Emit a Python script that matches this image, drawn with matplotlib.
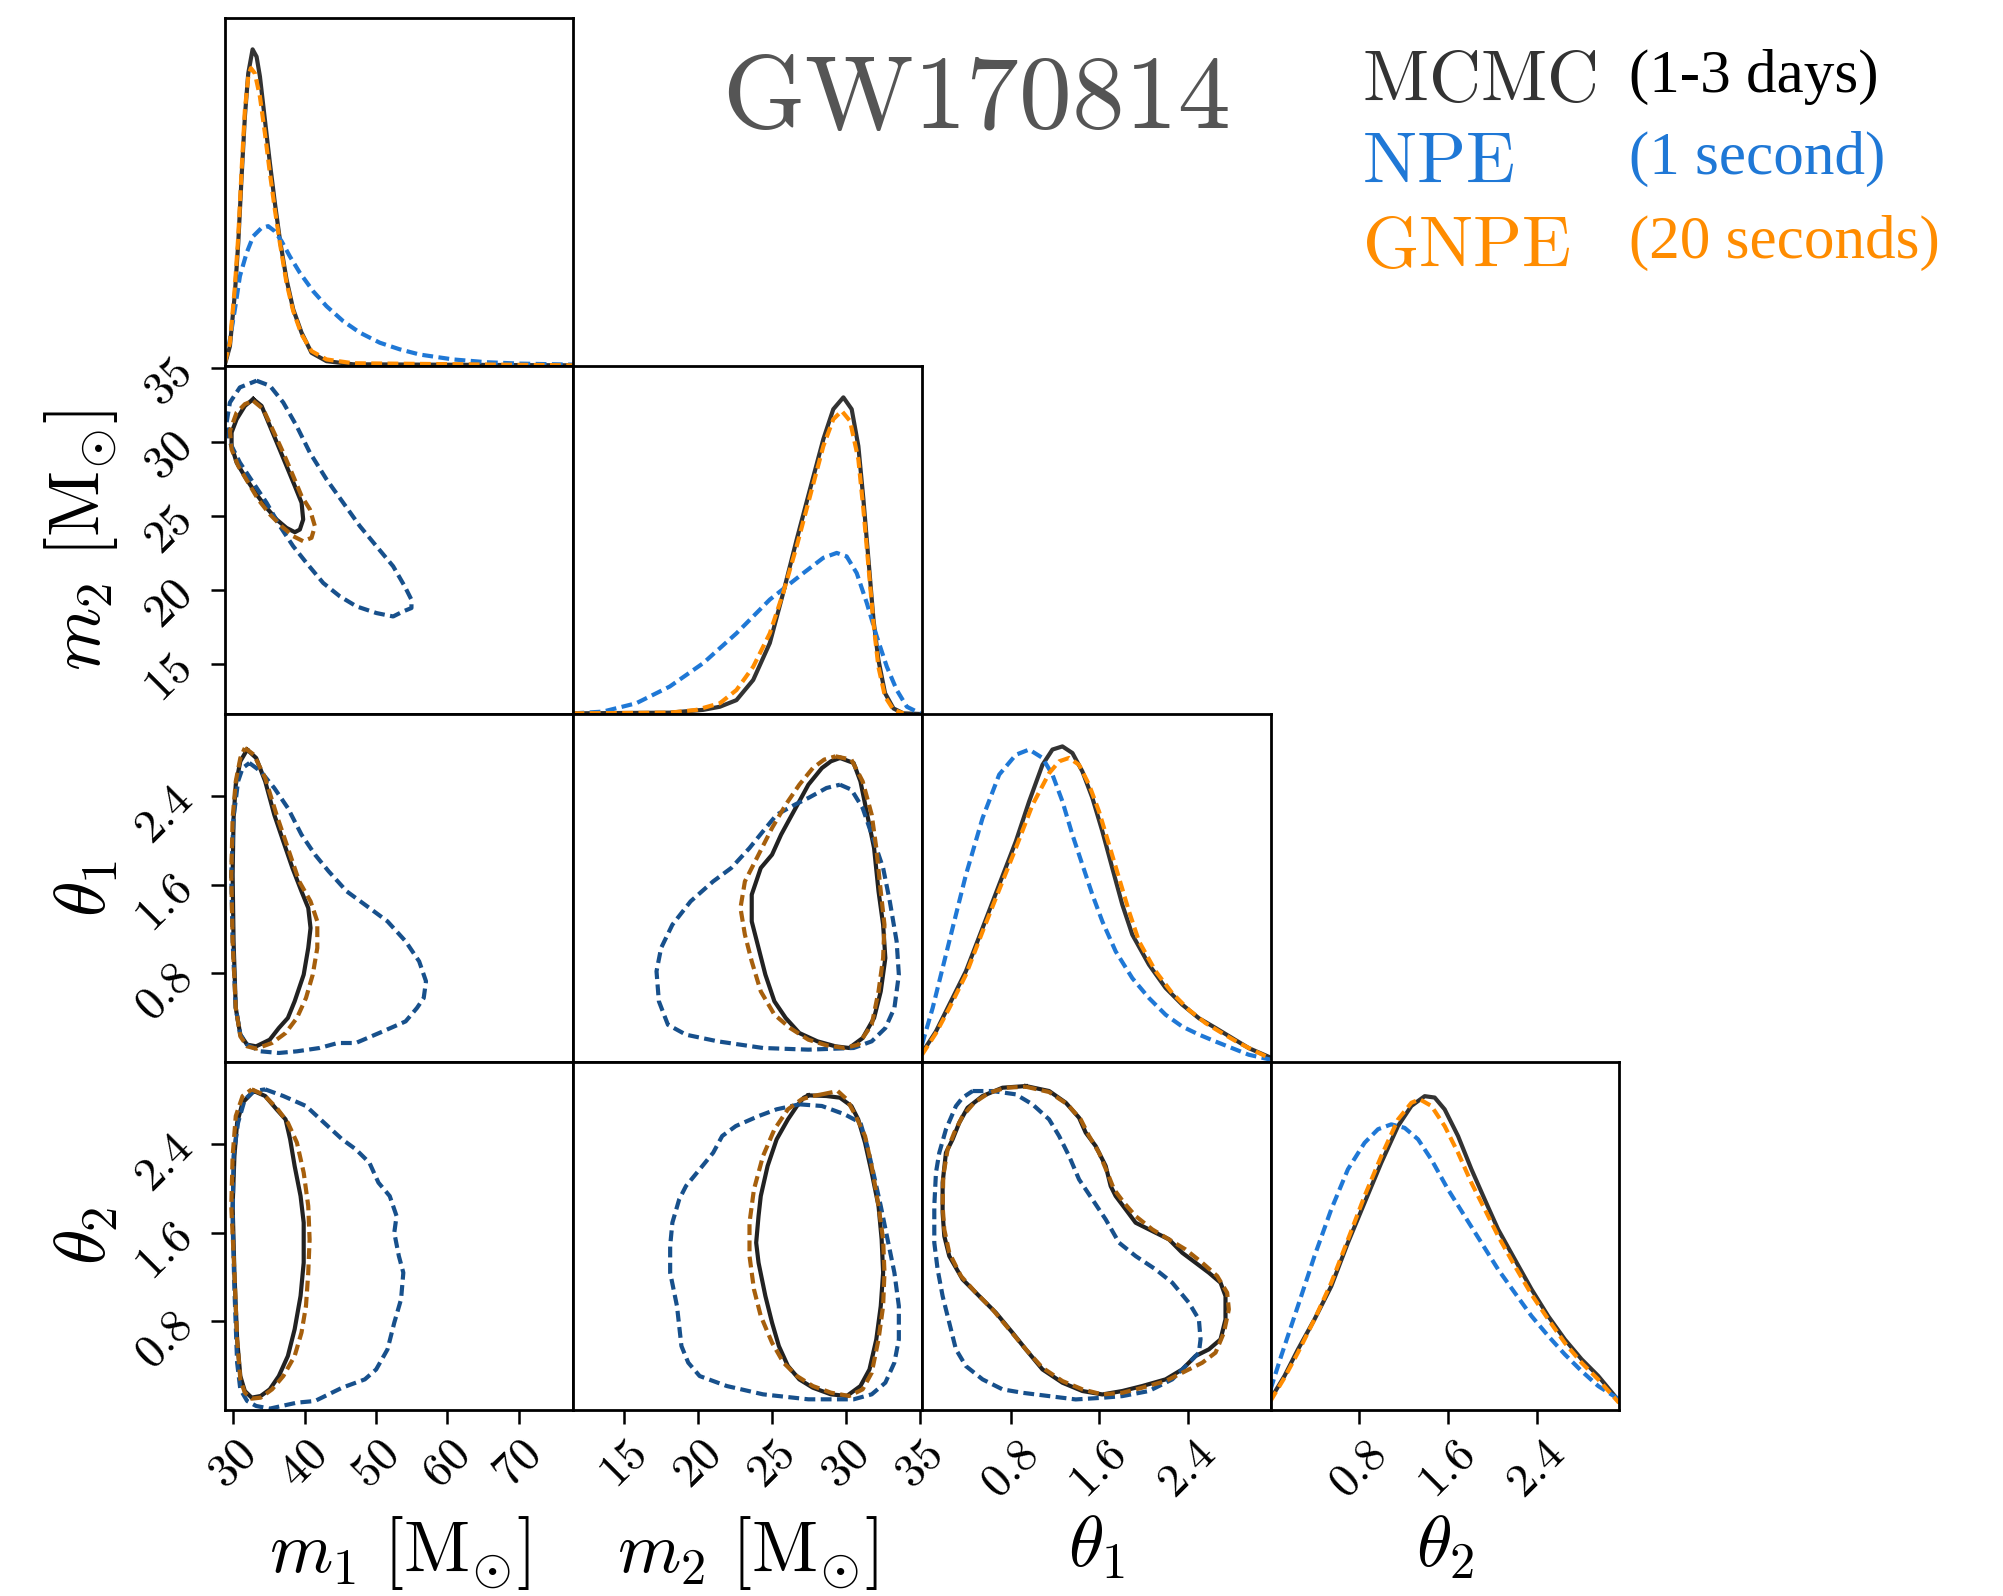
import numpy as np
import matplotlib.pyplot as plt

plt.rcParams['mathtext.fontset'] = 'cm'
plt.rcParams['font.family'] = 'Liberation Serif'

# ---------------- data ----------------
names = [r'$m_1\ [\mathrm{M}_{\odot}]$', r'$m_2\ [\mathrm{M}_{\odot}]$', r'$\theta_1$', r'$\theta_2$']
limits = [(28.8, 77.7), (11.6, 35.1), (0, np.pi), (0, np.pi)]
ticks = [[30, 40, 50, 60, 70], [15, 20, 25, 30, 35], [0.8, 1.6, 2.4], [0.8, 1.6, 2.4]]

methods = ['MCMC', 'NPE', 'GNPE']
times = ['(1-3 days)', '(1 second)', '(20 seconds)']

# 1D marginals (height as fraction of the panel)
m1_x_mcmc = [28.8, 29.5, 30.2, 30.67, 31.14, 31.6, 32.07, 32.68, 33.24, 33.71, 34.41, 35.11, 35.81, 36.51, 37.44, 38.38, 39.55, 40.95, 43.05, 46.79, 77.7]
m1_h_mcmc = [0.005, 0.057, 0.21, 0.354, 0.545, 0.717, 0.841, 0.91, 0.889, 0.832, 0.707, 0.583, 0.468, 0.363, 0.249, 0.163, 0.096, 0.038, 0.014, 0.005, 0.002]
m1_x_gnpe = [28.8, 29.5, 30.2, 30.67, 31.14, 31.6, 32.07, 32.44, 33.0, 33.71, 34.41, 35.11, 35.81, 36.51, 37.44, 38.38, 39.55, 40.95, 43.05, 46.79, 77.7]
m1_h_gnpe = [0.01, 0.067, 0.229, 0.373, 0.564, 0.736, 0.832, 0.856, 0.841, 0.774, 0.669, 0.554, 0.449, 0.354, 0.239, 0.158, 0.091, 0.043, 0.019, 0.008, 0.002]
m1_x_npe = [28.8, 29.5, 30.2, 30.9, 31.84, 32.77, 33.94, 34.87, 35.81, 36.74, 37.91, 39.31, 41.18, 43.05, 45.39, 47.73, 50.53, 53.33, 56.14, 60.81, 65.48, 70.16, 77.7]
m1_h_npe = [0.01, 0.076, 0.163, 0.258, 0.325, 0.373, 0.397, 0.402, 0.387, 0.359, 0.315, 0.268, 0.215, 0.172, 0.129, 0.096, 0.067, 0.048, 0.033, 0.019, 0.011, 0.007, 0.004]

m2_x_mcmc = [11.6, 18.09, 20.34, 21.47, 22.59, 23.72, 24.84, 25.74, 26.65, 27.55, 28.45, 29.12, 29.8, 30.36, 30.81, 31.15, 31.49, 31.83, 32.16, 32.61, 33.18, 33.85, 35.1]
m2_h_mcmc = [0.002, 0.004, 0.012, 0.021, 0.04, 0.098, 0.204, 0.348, 0.501, 0.646, 0.79, 0.876, 0.91, 0.876, 0.77, 0.617, 0.444, 0.271, 0.156, 0.06, 0.016, 0.002, 0.0]
m2_x_gnpe = [11.6, 18.09, 19.89, 21.47, 22.59, 23.72, 24.84, 25.74, 26.65, 27.55, 28.45, 29.12, 29.69, 30.25, 30.81, 31.15, 31.49, 31.83, 32.16, 32.61, 33.18, 33.85]
m2_h_gnpe = [0.002, 0.004, 0.012, 0.031, 0.069, 0.136, 0.232, 0.348, 0.482, 0.626, 0.77, 0.847, 0.871, 0.842, 0.732, 0.588, 0.425, 0.261, 0.136, 0.05, 0.012, 0.002]
m2_x_npe = [11.6, 13.58, 15.83, 18.09, 20.34, 22.59, 24.84, 27.1, 28.45, 29.35, 30.02, 30.7, 31.38, 32.05, 32.73, 33.4, 34.08, 34.98]
m2_h_npe = [0.002, 0.007, 0.031, 0.079, 0.146, 0.232, 0.329, 0.405, 0.449, 0.463, 0.453, 0.405, 0.319, 0.223, 0.136, 0.069, 0.021, 0.002]

t1_x_mcmc = [0, 0.126, 0.246, 0.396, 0.546, 0.696, 0.846, 0.966, 1.086, 1.176, 1.266, 1.356, 1.446, 1.536, 1.626, 1.716, 1.806, 1.896, 2.046, 2.196, 2.346, 2.496, 2.646, 2.796, 2.946, 3.141]
t1_h_mcmc = [0.026, 0.088, 0.165, 0.261, 0.385, 0.51, 0.634, 0.749, 0.854, 0.898, 0.907, 0.888, 0.835, 0.759, 0.663, 0.557, 0.452, 0.366, 0.28, 0.213, 0.165, 0.126, 0.098, 0.069, 0.04, 0.013]
t1_x_gnpe = [0, 0.126, 0.246, 0.396, 0.546, 0.696, 0.846, 0.996, 1.146, 1.236, 1.326, 1.416, 1.506, 1.596, 1.686, 1.776, 1.866, 1.956, 2.106, 2.256, 2.406, 2.556, 2.706, 2.856, 3.006, 3.141]
t1_h_gnpe = [0.021, 0.083, 0.155, 0.251, 0.375, 0.495, 0.615, 0.739, 0.83, 0.864, 0.874, 0.854, 0.797, 0.72, 0.625, 0.529, 0.433, 0.347, 0.261, 0.198, 0.15, 0.112, 0.083, 0.055, 0.031, 0.01]
t1_x_npe = [0, 0.096, 0.246, 0.396, 0.546, 0.696, 0.846, 0.966, 1.086, 1.176, 1.266, 1.356, 1.446, 1.536, 1.626, 1.746, 1.896, 2.046, 2.196, 2.346, 2.496, 2.646, 2.796, 2.946, 3.141]
t1_h_npe = [0.05, 0.155, 0.347, 0.538, 0.701, 0.826, 0.883, 0.898, 0.874, 0.826, 0.749, 0.653, 0.567, 0.481, 0.404, 0.318, 0.241, 0.184, 0.136, 0.102, 0.079, 0.059, 0.04, 0.021, 0.007]

t2_x_mcmc = [0, 0.126, 0.247, 0.397, 0.548, 0.698, 0.848, 0.999, 1.149, 1.27, 1.39, 1.48, 1.57, 1.691, 1.811, 1.931, 2.052, 2.202, 2.353, 2.503, 2.653, 2.804, 2.954, 3.141]
t2_h_mcmc = [0.031, 0.098, 0.174, 0.261, 0.356, 0.481, 0.596, 0.711, 0.816, 0.874, 0.902, 0.898, 0.864, 0.787, 0.692, 0.605, 0.519, 0.433, 0.347, 0.27, 0.203, 0.146, 0.098, 0.026]
t2_x_gnpe = [0, 0.126, 0.247, 0.397, 0.548, 0.698, 0.848, 0.999, 1.149, 1.27, 1.345, 1.45, 1.57, 1.691, 1.811, 1.931, 2.052, 2.202, 2.353, 2.503, 2.653, 2.804, 2.954, 3.141]
t2_h_gnpe = [0.026, 0.093, 0.165, 0.261, 0.366, 0.49, 0.615, 0.73, 0.835, 0.883, 0.893, 0.874, 0.816, 0.739, 0.653, 0.577, 0.5, 0.414, 0.332, 0.261, 0.193, 0.136, 0.088, 0.021]
t2_x_npe = [0, 0.096, 0.247, 0.397, 0.548, 0.698, 0.848, 0.969, 1.089, 1.209, 1.33, 1.45, 1.6, 1.751, 1.901, 2.052, 2.202, 2.353, 2.503, 2.653, 2.804, 2.954, 3.141]
t2_h_npe = [0.059, 0.155, 0.299, 0.443, 0.577, 0.692, 0.768, 0.807, 0.821, 0.811, 0.778, 0.72, 0.634, 0.557, 0.481, 0.404, 0.337, 0.27, 0.213, 0.16, 0.112, 0.069, 0.031]

# 2D contours (outer credible region), x then y
m1m2_mcmc_x = [32.77, 33.94, 35.11, 36.28, 37.44, 38.61, 39.55, 39.78, 39.31, 38.61, 37.44, 36.04, 34.64, 33.24, 31.84, 30.44, 29.73, 29.73, 30.44, 31.6]
m1m2_mcmc_y = [32.87, 32.41, 31.05, 29.7, 28.35, 26.99, 25.87, 24.74, 24.06, 23.88, 24.17, 24.74, 25.53, 26.43, 27.45, 28.58, 29.7, 30.61, 31.51, 32.41]
m1m2_gnpe_x = [32.77, 34.17, 35.58, 36.98, 38.38, 39.55, 40.72, 41.42, 40.95, 39.78, 38.38, 36.74, 35.11, 33.47, 32.07, 30.67, 29.73, 29.5, 30.44, 31.6]
m1m2_gnpe_y = [32.75, 32.19, 30.72, 29.25, 27.67, 26.32, 25.42, 24.29, 23.5, 23.27, 23.61, 24.29, 25.08, 26.09, 27.22, 28.35, 29.48, 30.72, 31.96, 32.53]
m1m2_npe_x = [33.24, 35.11, 36.98, 38.85, 40.72, 43.05, 45.39, 47.73, 50.06, 52.4, 54.03, 54.97, 54.97, 53.8, 52.4, 50.06, 47.26, 44.92, 42.59, 40.25, 38.38, 36.51, 34.64, 32.77, 30.9, 29.5, 29.03, 29.5, 30.9]
m1m2_npe_y = [34.11, 33.77, 32.64, 31.06, 29.25, 27.45, 25.87, 24.29, 22.93, 21.58, 20.22, 19.32, 18.76, 18.53, 18.19, 18.42, 18.87, 19.55, 20.45, 21.8, 22.93, 24.29, 25.87, 27.22, 28.58, 29.93, 31.29, 32.64, 33.66]

m1t1_mcmc_x = [31.91, 33.18, 34.45, 35.72, 36.99, 38.27, 39.54, 40.49, 40.81, 40.49, 39.85, 38.58, 37.63, 36.36, 35.09, 33.18, 31.91, 30.96, 30.32, 30.01, 29.88, 30.01, 30.32, 30.96]
m1t1_mcmc_y = [2.82, 2.745, 2.534, 2.233, 1.992, 1.752, 1.541, 1.391, 1.21, 1.03, 0.789, 0.548, 0.398, 0.307, 0.202, 0.142, 0.157, 0.247, 0.488, 1.09, 1.692, 2.203, 2.504, 2.715]
m1t1_gnpe_x = [31.59, 32.86, 34.45, 36.04, 37.63, 39.22, 40.81, 41.76, 41.76, 41.12, 40.17, 38.9, 37.31, 35.41, 33.18, 31.91, 30.96, 30.32, 29.88, 29.69, 29.88, 30.32, 30.96]
m1t1_gnpe_y = [2.835, 2.775, 2.564, 2.233, 1.932, 1.631, 1.451, 1.27, 1.03, 0.789, 0.578, 0.398, 0.262, 0.172, 0.121, 0.142, 0.232, 0.488, 1.09, 1.692, 2.203, 2.534, 2.745]
m1t1_npe_x = [32.23, 33.82, 35.72, 37.63, 39.54, 41.44, 43.35, 45.89, 49.07, 51.61, 54.15, 56.05, 57.01, 56.69, 55.74, 54.15, 50.97, 47.16, 44.62, 42.08, 38.9, 36.36, 33.82, 31.91, 30.96, 30.32, 29.88, 29.69, 30.01, 30.64, 31.28]
m1t1_npe_y = [2.7, 2.624, 2.474, 2.293, 2.053, 1.872, 1.722, 1.541, 1.391, 1.27, 1.09, 0.909, 0.729, 0.578, 0.488, 0.367, 0.277, 0.172, 0.172, 0.127, 0.097, 0.082, 0.097, 0.157, 0.247, 0.488, 1.09, 1.692, 2.203, 2.534, 2.654]

m2t1_mcmc_x = [29.57, 30.49, 30.95, 31.41, 31.87, 32.17, 32.48, 32.63, 32.32, 31.87, 31.1, 30.19, 29.27, 28.05, 26.83, 25.91, 25.15, 24.54, 24.08, 23.62, 23.62, 24.23, 24.99, 25.6, 26.21, 26.83, 27.44, 28.35, 28.96]
m2t1_mcmc_y = [2.745, 2.7, 2.534, 2.233, 1.932, 1.541, 1.24, 0.939, 0.638, 0.398, 0.217, 0.127, 0.142, 0.187, 0.262, 0.398, 0.548, 0.789, 1.03, 1.27, 1.511, 1.752, 1.872, 2.053, 2.203, 2.354, 2.504, 2.654, 2.715]
m2t1_gnpe_x = [29.27, 30.34, 31.1, 31.71, 32.02, 32.32, 32.57, 32.48, 32.17, 31.71, 30.8, 29.88, 28.66, 27.44, 26.21, 25.15, 24.23, 23.62, 23.16, 22.86, 23.16, 24.08, 24.99, 25.91, 26.83, 27.74, 28.5]
m2t1_gnpe_y = [2.76, 2.73, 2.534, 2.233, 1.932, 1.541, 1.24, 0.939, 0.638, 0.337, 0.157, 0.127, 0.151, 0.202, 0.307, 0.428, 0.638, 0.909, 1.15, 1.391, 1.631, 1.872, 2.113, 2.323, 2.504, 2.654, 2.73]
m2t1_npe_x = [29.57, 30.34, 31.1, 31.87, 32.48, 32.93, 33.39, 33.54, 33.24, 32.63, 31.71, 30.49, 27.44, 24.38, 21.33, 19.19, 17.97, 17.36, 17.2, 17.51, 18.27, 19.5, 21.02, 22.24, 23.47, 24.38, 25.3, 26.52, 27.44, 28.66]
m2t1_npe_y = [2.504, 2.459, 2.293, 1.992, 1.752, 1.451, 1.09, 0.789, 0.488, 0.307, 0.187, 0.127, 0.112, 0.127, 0.187, 0.247, 0.337, 0.548, 0.819, 1.03, 1.24, 1.451, 1.631, 1.752, 1.932, 2.083, 2.233, 2.323, 2.384, 2.474]

m1t2_mcmc_x = [32.86, 34.45, 36.04, 37.31, 37.95, 38.58, 39.41, 39.85, 39.85, 39.41, 38.58, 37.63, 36.36, 35.09, 33.82, 32.55, 31.59, 30.96, 30.51, 30.13, 29.88, 30.13, 30.51, 31.28]
m1t2_mcmc_y = [2.88, 2.835, 2.715, 2.624, 2.444, 2.203, 1.932, 1.692, 1.33, 1.03, 0.729, 0.488, 0.307, 0.187, 0.127, 0.112, 0.172, 0.307, 0.638, 1.24, 1.842, 2.293, 2.594, 2.775]
m1t2_gnpe_x = [32.55, 34.14, 36.04, 37.63, 38.9, 39.85, 40.49, 40.68, 40.49, 40.17, 39.54, 38.58, 36.99, 35.41, 33.82, 32.55, 31.59, 30.96, 30.51, 30.13, 29.69, 29.88, 30.32, 31.28]
m1t2_gnpe_y = [2.895, 2.85, 2.73, 2.594, 2.414, 2.143, 1.842, 1.541, 1.24, 0.939, 0.699, 0.488, 0.307, 0.187, 0.112, 0.103, 0.157, 0.277, 0.638, 1.24, 1.842, 2.293, 2.654, 2.835]
m1t2_npe_x = [34.45, 36.99, 40.17, 42.71, 45.25, 47.16, 49.07, 50.34, 51.92, 52.88, 52.56, 53.2, 53.83, 53.51, 52.56, 51.61, 50.02, 48.43, 45.25, 41.44, 38.9, 35.09, 33.18, 31.91, 30.96, 30.51, 30.13, 29.88, 30.01, 30.64, 31.59, 32.86]
m1t2_npe_y = [2.895, 2.835, 2.745, 2.594, 2.444, 2.354, 2.233, 2.053, 1.932, 1.752, 1.601, 1.391, 1.24, 1.0, 0.789, 0.548, 0.367, 0.277, 0.202, 0.082, 0.067, 0.013, 0.037, 0.082, 0.187, 0.428, 1.09, 1.692, 2.293, 2.594, 2.805, 2.88]

m2t2_mcmc_x = [27.44, 28.66, 29.57, 30.34, 30.8, 31.26, 31.71, 32.17, 32.38, 32.48, 32.32, 32.02, 31.56, 30.95, 30.03, 28.96, 27.74, 26.83, 26.06, 25.45, 24.99, 24.54, 24.08, 23.92, 24.08, 24.23, 24.69, 25.3, 26.06, 26.67, 27.13]
m2t2_mcmc_y = [2.841, 2.835, 2.82, 2.745, 2.624, 2.414, 2.143, 1.842, 1.541, 1.24, 0.939, 0.638, 0.367, 0.217, 0.127, 0.142, 0.202, 0.277, 0.398, 0.578, 0.789, 1.03, 1.33, 1.511, 1.752, 1.932, 2.203, 2.444, 2.624, 2.745, 2.82]
m2t2_gnpe_x = [28.35, 29.42, 30.03, 30.64, 31.26, 31.71, 32.17, 32.48, 32.57, 32.48, 32.17, 31.71, 31.1, 30.19, 28.96, 27.74, 26.67, 25.76, 24.99, 24.23, 23.77, 23.47, 23.47, 23.77, 24.38, 25.15, 26.06, 26.98, 27.74]
m2t2_gnpe_y = [2.85, 2.88, 2.805, 2.654, 2.474, 2.203, 1.842, 1.541, 1.24, 0.939, 0.638, 0.337, 0.187, 0.127, 0.157, 0.217, 0.307, 0.428, 0.608, 0.849, 1.09, 1.391, 1.692, 1.992, 2.293, 2.534, 2.715, 2.805, 2.835]
m2t2_npe_x = [26.83, 28.35, 29.88, 30.95, 31.41, 31.87, 32.32, 32.78, 33.24, 33.54, 33.54, 33.24, 32.63, 31.71, 30.49, 27.44, 24.38, 21.94, 20.11, 19.34, 18.88, 18.58, 18.12, 18.12, 18.27, 18.73, 19.19, 20.11, 21.02, 21.63, 22.55, 24.08, 25.3]
m2t2_npe_y = [2.76, 2.745, 2.67, 2.594, 2.384, 2.113, 1.842, 1.541, 1.24, 0.939, 0.638, 0.428, 0.247, 0.142, 0.097, 0.097, 0.142, 0.217, 0.307, 0.428, 0.578, 0.939, 1.24, 1.481, 1.692, 1.902, 2.023, 2.173, 2.323, 2.474, 2.564, 2.654, 2.715]

t1t2_mcmc_x = [0.936, 1.146, 1.296, 1.416, 1.476, 1.566, 1.656, 1.701, 1.746, 1.836, 1.926, 2.076, 2.226, 2.346, 2.466, 2.586, 2.691, 2.736, 2.736, 2.691, 2.586, 2.466, 2.346, 2.196, 1.986, 1.806, 1.626, 1.446, 1.266, 1.086, 0.936, 0.816, 0.666, 0.516, 0.366, 0.246, 0.201, 0.186, 0.186, 0.216, 0.276, 0.336, 0.411, 0.546, 0.726]
t1t2_mcmc_y = [2.925, 2.88, 2.775, 2.639, 2.504, 2.383, 2.203, 2.022, 1.932, 1.812, 1.691, 1.616, 1.541, 1.42, 1.33, 1.24, 1.15, 1.029, 0.819, 0.638, 0.548, 0.488, 0.367, 0.277, 0.217, 0.172, 0.141, 0.172, 0.247, 0.367, 0.548, 0.698, 0.879, 1.029, 1.18, 1.39, 1.571, 1.782, 2.052, 2.323, 2.444, 2.594, 2.729, 2.835, 2.91]
t1t2_gnpe_x = [0.936, 1.146, 1.311, 1.431, 1.506, 1.596, 1.671, 1.731, 1.821, 1.926, 2.076, 2.226, 2.376, 2.526, 2.661, 2.751, 2.766, 2.721, 2.646, 2.526, 2.346, 2.196, 1.986, 1.806, 1.626, 1.446, 1.266, 1.086, 0.936, 0.786, 0.636, 0.486, 0.351, 0.246, 0.201, 0.186, 0.192, 0.231, 0.291, 0.366, 0.471, 0.606, 0.756]
t1t2_gnpe_y = [2.919, 2.871, 2.76, 2.624, 2.474, 2.323, 2.143, 1.992, 1.872, 1.751, 1.631, 1.541, 1.45, 1.33, 1.21, 1.059, 0.909, 0.698, 0.518, 0.427, 0.337, 0.262, 0.202, 0.156, 0.141, 0.187, 0.262, 0.382, 0.548, 0.728, 0.909, 1.059, 1.21, 1.42, 1.631, 1.842, 2.113, 2.353, 2.504, 2.654, 2.775, 2.865, 2.91]
t1t2_npe_x = [0.456, 0.636, 0.846, 0.996, 1.146, 1.236, 1.326, 1.416, 1.536, 1.656, 1.776, 1.926, 2.106, 2.256, 2.406, 2.496, 2.511, 2.496, 2.406, 2.256, 2.046, 1.806, 1.626, 1.386, 1.146, 0.906, 0.726, 0.546, 0.396, 0.306, 0.246, 0.186, 0.141, 0.111, 0.111, 0.126, 0.156, 0.216, 0.306, 0.366]
t1t2_npe_y = [2.88, 2.88, 2.85, 2.76, 2.624, 2.474, 2.293, 2.082, 1.902, 1.721, 1.511, 1.39, 1.27, 1.15, 0.969, 0.819, 0.638, 0.518, 0.427, 0.277, 0.172, 0.126, 0.111, 0.096, 0.126, 0.156, 0.187, 0.277, 0.397, 0.548, 0.788, 1.029, 1.27, 1.511, 1.842, 2.143, 2.323, 2.534, 2.744, 2.82]

# ---------------- styles ----------------
line_col = {'MCMC': '#333333', 'NPE': '#1f78d6', 'GNPE': '#ff8c00'}
cont_col = {'MCMC': '#222222', 'NPE': '#17508c', 'GNPE': '#a65f0c'}
text_col = {'MCMC': '#333333', 'NPE': '#1f78d6', 'GNPE': '#ff8c00'}
time_col = {'MCMC': 'black', 'NPE': '#1f78d6', 'GNPE': '#ff8c00'}

diag = {
    0: {'MCMC': (m1_x_mcmc, m1_h_mcmc), 'NPE': (m1_x_npe, m1_h_npe), 'GNPE': (m1_x_gnpe, m1_h_gnpe)},
    1: {'MCMC': (m2_x_mcmc, m2_h_mcmc), 'NPE': (m2_x_npe, m2_h_npe), 'GNPE': (m2_x_gnpe, m2_h_gnpe)},
    2: {'MCMC': (t1_x_mcmc, t1_h_mcmc), 'NPE': (t1_x_npe, t1_h_npe), 'GNPE': (t1_x_gnpe, t1_h_gnpe)},
    3: {'MCMC': (t2_x_mcmc, t2_h_mcmc), 'NPE': (t2_x_npe, t2_h_npe), 'GNPE': (t2_x_gnpe, t2_h_gnpe)},
}
offdiag = {
    (1, 0): {'MCMC': (m1m2_mcmc_x, m1m2_mcmc_y), 'NPE': (m1m2_npe_x, m1m2_npe_y), 'GNPE': (m1m2_gnpe_x, m1m2_gnpe_y)},
    (2, 0): {'MCMC': (m1t1_mcmc_x, m1t1_mcmc_y), 'NPE': (m1t1_npe_x, m1t1_npe_y), 'GNPE': (m1t1_gnpe_x, m1t1_gnpe_y)},
    (2, 1): {'MCMC': (m2t1_mcmc_x, m2t1_mcmc_y), 'NPE': (m2t1_npe_x, m2t1_npe_y), 'GNPE': (m2t1_gnpe_x, m2t1_gnpe_y)},
    (3, 0): {'MCMC': (m1t2_mcmc_x, m1t2_mcmc_y), 'NPE': (m1t2_npe_x, m1t2_npe_y), 'GNPE': (m1t2_gnpe_x, m1t2_gnpe_y)},
    (3, 1): {'MCMC': (m2t2_mcmc_x, m2t2_mcmc_y), 'NPE': (m2t2_npe_x, m2t2_npe_y), 'GNPE': (m2t2_gnpe_x, m2t2_gnpe_y)},
    (3, 2): {'MCMC': (t1t2_mcmc_x, t1t2_mcmc_y), 'NPE': (t1t2_npe_x, t1t2_npe_y), 'GNPE': (t1t2_gnpe_x, t1t2_gnpe_y)},
}


def style(m):
    if m == 'MCMC':
        return dict(ls='-')
    return dict(ls=(0, (2.6, 1.3)))


fig, axes = plt.subplots(4, 4, figsize=(10.015, 7.98), dpi=200)
fig.subplots_adjust(left=0.1123, right=0.8083, bottom=0.1165, top=0.9887, wspace=0, hspace=0)

lw = 1.5
for i in range(4):
    for j in range(4):
        ax = axes[i, j]
        if j > i:
            ax.set_visible(False)
            continue
        for s in ax.spines.values():
            s.set_linewidth(1.0)
        if i == j:
            for m in methods:
                x, h = diag[i][m]
                ax.plot(x, h, color=line_col[m], lw=lw, **style(m))
            ax.set_ylim(0, 1)
        else:
            for m in methods:
                x, y = offdiag[(i, j)][m]
                ax.plot(np.append(x, x[0]), np.append(y, y[0]), color=cont_col[m], lw=lw, **style(m))
            ax.set_ylim(limits[i])
        ax.set_xlim(limits[j])

        ax.tick_params(direction='out', length=5, width=0.9, labelsize=17)
        if i == 3:
            ax.set_xticks(ticks[j])
            ax.set_xticklabels(['$%g$' % t for t in ticks[j]], rotation=45)
            ax.set_xlabel(names[j], fontsize=26)
            ax.xaxis.set_label_coords(0.5, -0.30)
        else:
            ax.set_xticks([])
        if j == 0 and i > 0:
            ax.set_yticks(ticks[i])
            ax.set_yticklabels(['$%g$' % t for t in ticks[i]], rotation=45)
            ax.set_ylabel(names[i], fontsize=26)
            ax.yaxis.set_label_coords(-0.30, 0.5)
        else:
            ax.set_yticks([])

fig.text(975 / 2003, 1 - 128 / 1596, r'$\mathrm{GW170814}$', fontsize=38, color='#555555', ha='center', va='baseline')

baselines = [101, 183, 267]
for k, m in enumerate(methods):
    fig.text(1362 / 2003, 1 - baselines[k] / 1596, r'$\mathrm{%s}$' % m, fontsize=26, color=text_col[m], ha='left', va='baseline')
    fig.text(1629 / 2003, 1 - (baselines[k] - 9) / 1596, times[k], fontsize=22, color=time_col[m], ha='left', va='baseline')

plt.savefig('out.png', dpi=200)
